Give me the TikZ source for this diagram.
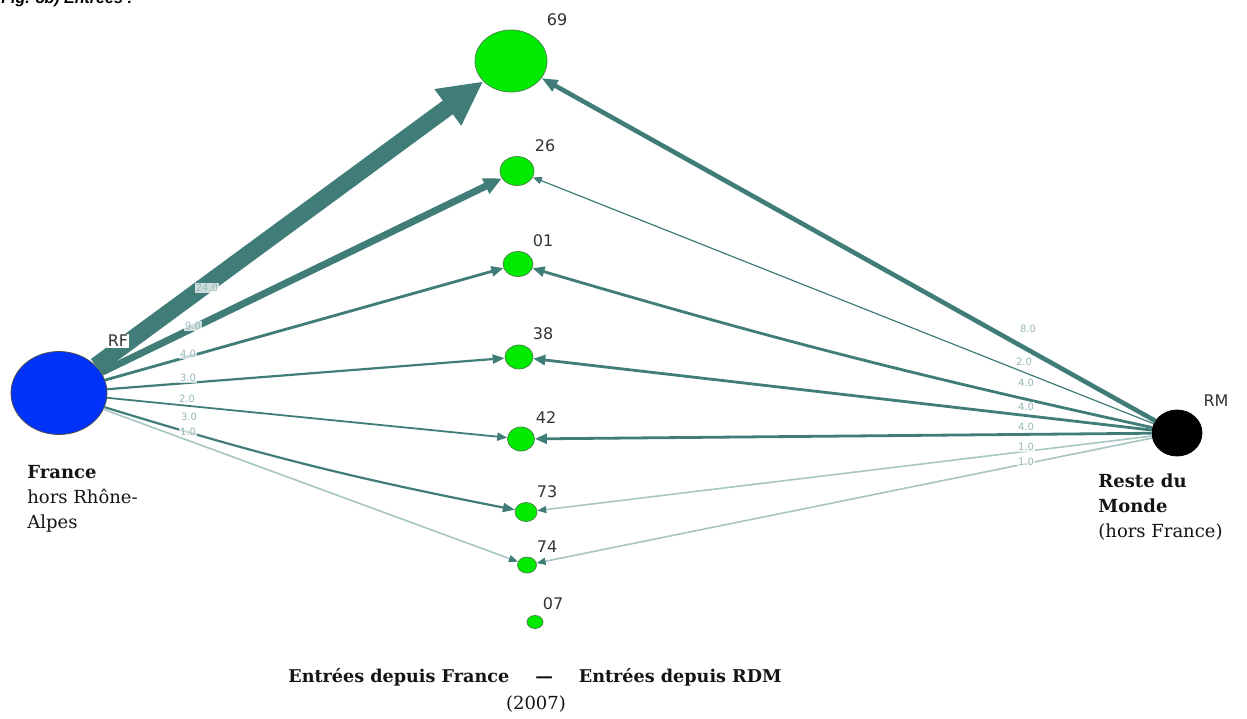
\documentclass[tikz,border=0pt]{standalone}
\usepackage{fontspec}
\setmainfont{DejaVu Serif}
\newfontfamily\labfont{DejaVu Sans}
\newfontfamily\titlefont{Liberation Sans}
\usetikzlibrary{arrows.meta,shapes.geometric}
\definecolor{flow}{RGB}{64,125,121}
\definecolor{flowlight}{RGB}{165,198,195}
\definecolor{labcol}{RGB}{150,185,183}
\definecolor{nodegreen}{RGB}{0,235,0}
\definecolor{greenrim}{RGB}{70,140,70}
\definecolor{nodeblue}{RGB}{0,50,250}
\tikzset{
  dept/.style={ellipse, draw=greenrim, fill=nodegreen, inner sep=0pt, line width=0.4pt},
  numlab/.style={font=\labfont\fontsize{8}{9}\selectfont, text=black!80, inner sep=0pt},
  wlab/.style={font=\labfont\fontsize{5}{5.5}\selectfont, text=labcol, fill=white, fill opacity=0.75, text opacity=1, inner sep=0.4pt},
  fwA/.style={draw=flow, line width=8.5pt, -{Triangle[length=22pt,width=21pt]}},
  fwB/.style={draw=flow, line width=3.5pt, -{Triangle[length=9pt,width=8pt]}},
  fwC/.style={draw=flow, line width=2.3pt, -{Triangle[length=8pt,width=6pt]}},
  fwD/.style={draw=flow, line width=1.4pt, -{Triangle[length=6pt,width=5pt]}},
  fwE/.style={draw=flow, line width=1.1pt, -{Triangle[length=6pt,width=4.5pt]}},
  fwF/.style={draw=flow, line width=0.9pt, -{Triangle[length=5pt,width=4pt]}},
  fwG/.style={draw=flow, line width=0.6pt, -{Triangle[length=4.5pt,width=3.5pt]}},
  fwH/.style={draw=flowlight, line width=0.8pt, -{Triangle[length=4.5pt,width=3.5pt,color=flow]}},
  txt/.style={font=\fontsize{9}{12.5}\selectfont, align=left, inner sep=0pt, text=black!92}
}
\begin{document}
\begin{tikzpicture}[x=0.5pt,y=-0.5pt]
\useasboundingbox[fill=white] (0,0) rectangle (1247,718);

% title (clipped at the top edge, as in the reference)
\node[anchor=base west, inner sep=0pt, font=\titlefont\bfseries\itshape\fontsize{8}{9}\selectfont] (title) at (1,3) {Fig. 8b) Entrées :};

% source nodes
\node[ellipse, draw=black!70, fill=nodeblue, inner sep=0pt, minimum width=48pt, minimum height=41.5pt] (RF) at (59,393) {};
\node[ellipse, draw=black, fill=black, inner sep=0pt, minimum width=25pt, minimum height=23pt] (RM) at (1177,433) {};

% department nodes
\node[dept, minimum width=36pt, minimum height=31pt] (n69) at (511,61) {};
\node[dept, minimum width=17pt, minimum height=14.5pt] (n26) at (517,171) {};
\node[dept, minimum width=15pt, minimum height=12.5pt] (n01) at (518,264) {};
\node[dept, minimum width=14pt, minimum height=12pt] (n38) at (519,357) {};
\node[dept, minimum width=13.5pt, minimum height=12pt] (n42) at (521,439) {};
\node[dept, minimum width=11pt, minimum height=9.5pt] (n73) at (526,512) {};
\node[dept, minimum width=9.5pt, minimum height=8pt] (n74) at (527,565) {};
\node[dept, minimum width=8pt, minimum height=6.5pt] (n07) at (535,622) {};

% flows from France
\draw[fwA] (RF) -- (n69);
\draw[fwB] (RF) -- (n26);
\draw[fwD] (RF) -- (n01);
\draw[fwE] (RF) -- (n38);
\draw[fwF] (RF) -- (n42);
\draw[fwE] (RF) to[bend right=3] (n73);
\draw[fwH] (RF) -- (n74);

% flows from rest of world
\draw[fwC] (RM) -- (n69);
\draw[fwG] (RM) -- (n26);
\draw[fwD] (RM) to[bend left=2] (n01);
\draw[fwD] (RM) -- (n38);
\draw[fwD] (RM) -- (n42);
\draw[fwH] (RM) -- (n73);
\draw[fwH] (RM) -- (n74);

% flow labels, left
\node[wlab] (l1) at (207,288) {24.0};
\node[wlab] (l2) at (193,326) {9.0};
\node[wlab] (l3) at (188,354) {4.0};
\node[wlab] (l4) at (188,378) {3.0};
\node[wlab] (l5) at (187,399) {2.0};
\node[wlab] (l6) at (189,417) {3.0};
\node[wlab] (l7) at (188,432) {1.0};
% flow labels, right
\node[wlab] (r1) at (1028,329) {8.0};
\node[wlab] (r2) at (1024,362) {2.0};
\node[wlab] (r3) at (1026,383) {4.0};
\node[wlab] (r4) at (1026,407) {4.0};
\node[wlab] (r5) at (1026,427) {4.0};
\node[wlab] (r6) at (1026,447) {1.0};
\node[wlab] (r7) at (1026,462) {1.0};

% node labels
\node[numlab, fill=white, inner sep=0.6pt] (tRF) at (118,341) {RF};
\node[numlab] (tRM) at (1216,401) {RM};
\node[numlab] (t69) at (557,20) {69};
\node[numlab] (t26) at (545,146) {26};
\node[numlab] (t01) at (543,241) {01};
\node[numlab] (t38) at (543,334) {38};
\node[numlab] (t42) at (546,418) {42};
\node[numlab] (t73) at (547,492) {73};
\node[numlab] (t74) at (547,547) {74};
\node[numlab] (t07) at (553,604) {07};

% captions
\node[txt, anchor=north west] (fr) at (27,465) {\textbf{France}\\hors Rhône-\\Alpes};
\node[txt, anchor=north west] (rdm) at (1098,473) {\textbf{Reste du}\\\textbf{Monde}\\(hors France)};
\node[txt, anchor=base, font=\bfseries\fontsize{8.8}{10}\selectfont] (cap) at (535,682) {Entrées depuis France\hspace{13pt}—\hspace{13pt}Entrées depuis RDM};
\node[txt, anchor=base] (year) at (536,709) {(2007)};
\end{tikzpicture}
\end{document}
